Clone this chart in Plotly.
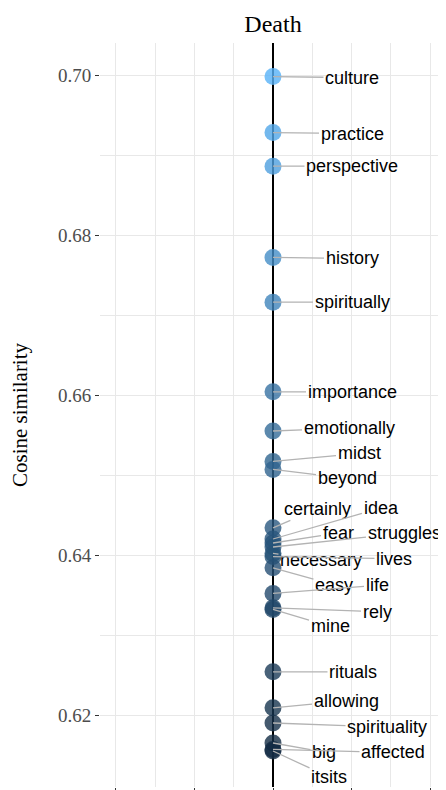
import plotly.graph_objects as go

# words closest to "Death" and their cosine similarity
words = ["culture", "practice", "perspective", "history", "spiritually",
         "importance", "emotionally", "midst", "beyond", "certainly",
         "idea", "fear", "struggles", "necessary", "lives",
         "easy", "life", "rely", "mine", "rituals",
         "allowing", "spirituality", "big", "affected", "itsits"]
similarity = [0.6998, 0.6928, 0.6886, 0.6772, 0.6716,
              0.6604, 0.6555, 0.6517, 0.6507, 0.6434,
              0.6420, 0.6415, 0.6410, 0.6402, 0.6398,
              0.6384, 0.6352, 0.6334, 0.6332, 0.6254,
              0.6209, 0.6190, 0.6165, 0.6157, 0.6155]
xpos = [0] * len(words)

# repelled label offsets in pixels (dx, dy), mimicking ggrepel placement
label_offsets = [(79, 1), (79, 1), (79, 0), (79, 1), (79, 0),
                 (79, 0), (76, -3), (86, -8), (74, 9), (44, -19),
                 (108, -31), (65, -10), (131, -14), (48, 7), (121, 2),
                 (61, 17), (104, -8), (104, 4), (57, 17), (80, 0),
                 (73, -7), (114, 4), (51, 9), (120, 3), (56, 26)]

serif = "Liberation Serif"
sans = "Liberation Sans"

# page has an 8px body margin, so the figure is 8px smaller each way
W, H = 438, 782

fig = go.Figure()
fig.add_trace(go.Scatter(
    x=xpos, y=similarity, mode="markers",
    marker=dict(size=17, color=similarity,
                colorscale=[[0, "#132B43"], [1, "#56B1F7"]],
                opacity=0.8, line=dict(width=0)),
    hoverinfo="text", text=words, showlegend=False))

for w, v, (dx, dy) in zip(words, similarity, label_offsets):
    fig.add_annotation(x=0, y=v, text=w, showarrow=True, arrowhead=0,
                       ax=dx, ay=dy, arrowcolor="#B3B3B3", arrowwidth=1.3,
                       font=dict(family=sans, size=18, color="black"))

fig.update_layout(
    width=W, height=H,
    margin=dict(l=92, r=0, t=35, b=3),
    plot_bgcolor="white", paper_bgcolor="white",
    title=dict(text="Death", x=0.5, xref="paper", xanchor="center",
               y=1 - 15.5 / H, yref="container", yanchor="middle",
               font=dict(family=serif, size=24, color="black")),
    xaxis=dict(range=[-1.1, 1.1], tickmode="linear", tick0=0, dtick=0.5,
               showticklabels=False, ticks="outside", ticklen=4, tickcolor="#333333",
               showgrid=True, gridcolor="#E8E8E8", gridwidth=1,
               minor=dict(dtick=0.25, tick0=0, showgrid=True, gridcolor="#E8E8E8", gridwidth=1),
               zeroline=True, zerolinecolor="black", zerolinewidth=1.5, showline=False),
    yaxis=dict(range=[0.611, 0.704], tickmode="linear", tick0=0.62, dtick=0.02,
               tickformat=".2f", ticks="outside", ticklen=4, tickcolor="#333333",
               tickfont=dict(family=serif, size=19, color="#4D4D4D"),
               showgrid=True, gridcolor="#E8E8E8", gridwidth=1,
               minor=dict(dtick=0.01, tick0=0.61, showgrid=True, gridcolor="#E8E8E8", gridwidth=1),
               zeroline=False, showline=False,
               title=dict(text="Cosine similarity", standoff=34,
                          font=dict(family=serif, size=21, color="black"))),
)

fig.write_html("out.html")
